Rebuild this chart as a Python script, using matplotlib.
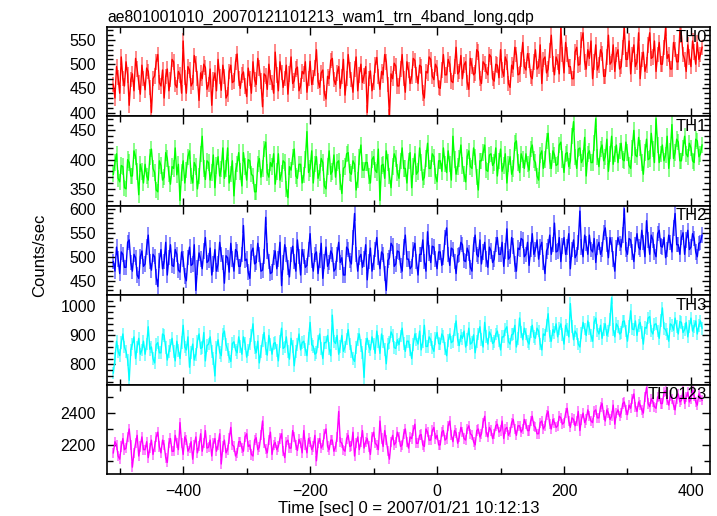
import numpy as np
import matplotlib
matplotlib.use("Agg")
import matplotlib.pyplot as plt
from matplotlib.ticker import MultipleLocator

plt.rcParams['font.family'] = ['Liberation Sans', 'DejaVu Sans']

title = "ae801001010_20070121101213_wam1_trn_4band_long.qdp"
xlabel = "Time [sec] 0 = 2007/01/21 10:12:13"
ylabel = "Counts/sec"
bands = ["TH0", "TH1", "TH2", "TH3", "TH0123"]
colors = ["#ff0000", "#00ff00", "#0000ff", "#00ffff", "#ff00ff"]

t_start, t_step = -510, 2.5

th0 = [458,430, 495,472, 440,515, 470,455, 505,478, 415,468, 480,445, 512,490, 462,438, 498,470,
       447,492, 485,452, 400,470, 476,505, 520,462, 455,488, 430,475, 490,445, 468,510, 505,458,
       452,485, 478,440, 548,472, 440,495, 488,455, 462,518, 500,470, 425,482, 470,500, 493,448,
       458,490, 415,468, 482,445, 510,475, 446,498, 475,430, 437,485, 498,462, 465,505, 521,470,
       450,478, 484,455, 433,492, 470,440, 505,468, 458,512, 492,465, 412,480, 476,448, 500,472,
       462,440, 525,478, 445,505, 483,452, 470,498, 438,480, 515,460, 466,490, 494,445, 455,485,
       480,505, 442,470, 506,458, 472,492, 530,465, 452,482, 488,440, 428,475, 470,508, 512,468,
       458,482, 495,450, 475,510, 436,470, 520,488, 468,442, 490,515, 445,478, 500,462, 476,495,
       400,470, 486,445, 462,498, 514,475, 448,485, 478,520, 505,458, 392,480, 470,502, 496,455,
       455,490, 520,470, 442,505, 488,460, 475,512, 508,478, 460,498, 495,440, 430,485, 482,515,
       510,475, 468,500, 492,452, 450,488, 520,478, 478,510, 500,465, 462,495, 535,480, 485,518,
       470,498, 505,462, 448,512, 496,478, 482,530, 525,470, 460,505, 500,485, 478,520, 515,470,
       465,500, 498,472, 530,488, 475,515, 505,460, 452,498, 490,535, 520,478, 480,510, 545,495,
       488,522, 508,475, 470,505, 530,490, 495,540, 460,510, 515,482, 490,528, 560,500, 478,515,
       505,480, 575,520, 482,545, 520,495, 495,470, 470,525, 535,498, 500,550, 565,505, 490,530,
       512,548, 470,505, 540,488, 498,530, 522,475, 475,515, 560,500, 505,540, 485,520, 530,490,
       495,535, 575,510, 510,548, 480,520, 540,495, 505,565, 470,510, 525,485, 498,540, 565,512,
       515,548, 485,520, 545,500, 500,535, 575,512, 520,490, 490,545, 530,505, 505,568, 560,520,
       510,485, 540,515, 495,548, 525,500, 545,510, 520,535]

th1 = [375,395, 410,368, 362,390, 388,352, 350,400, 395,372, 372,415, 405,380, 340,392, 380,360,
       392,372, 365,405, 418,385, 378,348, 345,398, 390,365, 370,412, 402,375, 358,388, 385,420,
       374,392, 330,378, 398,360, 382,405, 415,372, 360,395, 388,350, 372,410, 440,385, 366,398,
       395,365, 378,408, 352,390, 405,372, 384,420, 368,385, 420,360, 375,398, 338,380, 392,412,
       380,355, 412,388, 365,400, 398,375, 372,345, 345,392, 402,370, 385,418, 430,378, 370,395,
       388,410, 358,380, 410,365, 376,398, 395,350, 335,388, 382,405, 418,372, 368,392, 392,360,
       374,400, 448,378, 385,415, 360,392, 405,368, 378,402, 395,355, 350,388, 415,375, 380,408,
       370,395, 398,362, 342,385, 388,410, 412,378, 375,398, 392,348, 365,405, 425,382, 382,395,
       395,372, 360,400, 405,382, 378,418, 330,390, 392,368, 415,395, 372,352, 388,410, 402,378,
       368,398, 420,385, 385,360, 398,412, 352,388, 410,375, 380,420, 395,365, 370,402, 428,385,
       385,410, 405,372, 362,398, 398,380, 420,392, 378,415, 392,365, 440,400, 375,388, 402,425,
       390,375, 362,405, 415,388, 385,420, 405,370, 348,398, 398,412, 425,382, 380,408, 410,390,
       395,420, 372,398, 418,380, 390,410, 360,392, 405,375, 385,428, 432,395, 378,410, 400,385,
       410,392, 382,418, 425,400, 395,372, 365,408, 415,385, 400,432, 445,398, 385,415, 408,390,
       392,425, 430,400, 378,410, 412,388, 398,440, 465,405, 385,418, 420,395, 402,438, 372,410,
       415,395, 395,428, 470,405, 388,418, 425,398, 405,435, 380,410, 440,392, 410,425, 395,415,
       428,400, 398,430, 412,390, 385,420, 450,408, 405,438, 420,395, 375,412, 435,400, 402,445,
       418,395, 470,425, 395,410, 425,398, 408,440, 385,415, 460,402, 412,435, 430,398, 398,420,
       440,410, 405,428, 420,398, 395,435, 432,405, 410,425]

th2 = [490,470, 520,495, 465,510, 505,478, 478,530, 535,488, 470,505, 498,462, 455,500, 512,480,
       485,520, 545,490, 472,505, 500,458, 438,492, 515,475, 490,530, 462,498, 525,482, 480,515,
       505,472, 468,510, 495,460, 450,498, 520,482, 485,525, 430,478, 508,495, 475,512, 540,488,
       492,518, 462,485, 515,470, 485,530, 505,488, 445,502, 498,468, 528,495, 470,515, 510,480,
       480,505, 565,492, 495,468, 455,510, 518,485, 488,528, 505,470, 472,500, 582,512, 490,465,
       468,498, 512,475, 495,530, 440,488, 525,505, 478,458, 505,522, 490,470, 535,500, 462,515,
       500,478, 482,515, 548,492, 470,505, 510,465, 492,528, 455,490, 520,480, 488,512, 505,470,
       475,505, 530,488, 498,462, 462,520, 515,492, 485,540, 590,505, 470,498, 505,478, 495,525,
       452,490, 518,470, 488,515, 540,498, 475,510, 505,465, 430,492, 498,528, 522,480, 485,512,
       510,482, 470,520, 545,495, 495,475, 480,515, 528,490, 462,505, 505,535, 490,470, 552,508,
       488,522, 520,495, 475,510, 510,482, 498,540, 560,505, 482,518, 515,490, 465,502, 505,530,
       525,492, 490,518, 508,478, 470,525, 545,505, 500,535, 485,510, 530,495, 478,520, 512,488,
       495,525, 540,505, 505,530, 480,512, 558,495, 500,540, 522,485, 470,518, 515,538, 535,500,
       505,530, 482,515, 548,505, 515,535, 495,520, 530,488, 465,512, 520,545, 505,525, 570,510,
       512,540, 490,522, 540,505, 520,548, 475,515, 535,498, 505,530, 595,520, 500,545, 528,505,
       545,515, 510,538, 488,520, 530,505, 515,550, 560,525, 498,540, 525,495, 470,518, 540,528,
       520,545, 600,515, 505,538, 535,510, 490,525, 548,520, 515,555, 530,500, 575,535, 505,545,
       535,510, 500,548, 555,522, 520,540, 498,515, 545,530, 510,560, 590,525, 525,505, 540,550,
       505,535, 555,515, 520,548, 538,510, 500,528, 530,545]

th3 = [770,820, 880,845, 830,875, 905,860, 845,815, 745,850, 870,895, 820,860, 890,835, 850,880,
       835,870, 930,852, 860,820, 805,868, 875,840, 840,905, 900,858, 815,845, 865,890, 845,812,
       880,848, 820,875, 935,860, 850,895, 790,842, 870,815, 835,880, 905,855, 858,910, 812,865,
       870,895, 845,820, 760,858, 885,842, 830,905, 915,868, 852,825, 810,872, 878,850, 840,895,
       862,835, 895,872, 825,850, 870,900, 940,858, 840,880, 805,845, 882,910, 855,832, 900,868,
       835,872, 875,848, 812,880, 925,855, 860,895, 845,818, 890,862, 795,845, 868,905, 850,875,
       880,852, 830,890, 945,868, 862,835, 840,880, 905,855, 820,875, 875,900, 855,830, 970,880,
       872,900, 835,862, 900,845, 860,888, 920,870, 845,820, 810,858, 885,905, 865,840, 755,870,
       890,862, 850,895, 870,838, 915,880, 838,905, 880,852, 802,870, 875,912, 900,858, 855,885,
       868,898, 925,872, 845,880, 880,850, 820,868, 905,885, 870,915, 850,878, 935,862, 862,895,
       885,858, 845,890, 910,872, 870,905, 895,855, 830,882, 905,875, 880,920, 950,885, 865,900,
       890,915, 860,885, 925,870, 875,902, 840,878, 905,930, 885,860, 945,895, 870,912, 900,872,
       878,905, 915,882, 850,895, 895,920, 930,878, 870,902, 905,935, 860,890, 960,912, 885,925,
       905,880, 870,912, 935,895, 890,925, 915,870, 850,905, 900,935, 975,898, 880,920, 910,940,
       895,925, 940,902, 870,935, 920,895, 1010,930, 885,915, 905,870, 860,908, 945,922, 900,950,
       925,900, 880,945, 960,918, 905,935, 890,920, 940,900, 915,955, 1030,920, 895,940, 930,905,
       910,948, 950,915, 880,930, 985,922, 920,950, 900,935, 945,910, 870,928, 925,960, 965,915,
       905,938, 940,915, 890,952, 995,925, 920,905, 880,940, 935,918, 960,930, 905,948, 945,910,
       920,945, 895,930, 960,915, 930,950, 905,935, 950,925]

th0123 = [2150,2220, 2200,2130, 2110,2190, 2240,2170, 2180,2250, 2300,2200, 2060,2150, 2210,2260, 2130,2190, 2250,2170,
          2170,2220, 2120,2180, 2230,2140, 2190,2250, 2280,2190, 2150,2230, 2200,2120, 2090,2210, 2240,2160, 2160,2260,
          2210,2170, 2340,2210, 2140,2250, 2230,2160, 2180,2220, 2110,2200, 2250,2150, 2195,2270, 2160,2210, 2290,2180,
          2185,2230, 2130,2210, 2240,2160, 2200,2270, 2080,2190, 2230,2150, 2170,2240, 2310,2200, 2190,2130, 2150,2220,
          2220,2180, 2160,2250, 2270,2190, 2200,2140, 2130,2230, 2245,2170, 2185,2260, 2350,2210, 2175,2150, 2230,2280,
          2140,2200, 2215,2170, 2190,2240, 2270,2160, 2120,2220, 2230,2180, 2180,2290, 2250,2200, 2165,2235, 2210,2150,
          2290,2200, 2150,2240, 2220,2170, 2190,2260, 2100,2210, 2240,2180, 2200,2270, 2300,2190, 2170,2230, 2230,2160,
          2185,2250, 2410,2220, 2210,2170, 2160,2240, 2260,2190, 2195,2280, 2130,2210, 2250,2170, 2220,2290, 2180,2220,
          2240,2190, 2140,2250, 2280,2210, 2200,2170, 2350,2240, 2190,2290, 2230,2160, 2110,2220, 2260,2200, 2215,2280,
          2250,2190, 2200,2270, 2300,2220, 2180,2250, 2240,2290, 2330,2210, 2210,2260, 2265,2200, 2190,2300, 2280,2230,
          2230,2290, 2310,2240, 2260,2200, 2200,2280, 2290,2230, 2240,2320, 2350,2260, 2220,2290, 2275,2210, 2250,2310,
          2280,2240, 2230,2300, 2320,2270, 2260,2220, 2200,2290, 2300,2250, 2270,2340, 2380,2280, 2250,2310, 2290,2240,
          2270,2320, 2330,2280, 2290,2350, 2240,2300, 2310,2260, 2280,2340, 2360,2300, 2260,2320, 2320,2280, 2300,2360,
          2330,2290, 2290,2350, 2380,2320, 2310,2270, 2270,2340, 2350,2300, 2320,2390, 2410,2330, 2300,2360, 2340,2310,
          2320,2380, 2370,2330, 2340,2400, 2430,2350, 2310,2370, 2360,2320, 2350,2410, 2290,2360, 2400,2340, 2360,2420,
          2380,2350, 2340,2410, 2420,2370, 2370,2440, 2460,2390, 2350,2420, 2400,2360, 2380,2450, 2330,2400, 2420,2380,
          2400,2460, 2470,2420, 2390,2450, 2430,2490, 2520,2440, 2410,2470, 2450,2420, 2400,2500, 2560,2460, 2440,2490,
          2470,2440, 2430,2500, 2510,2460, 2460,2530, 2540,2480, 2450,2510, 2490,2450, 2420,2490, 2520,2470, 2480,2540,
          2460,2500, 2530,2470, 2490,2540, 2510,2470, 2450,2520, 2500,2480]

errors = [16, 14, 16, 22, 32]
series = [th0, th1, th2, th3, th0123]

ylims = [(392, 577), (321, 474), (420, 606), (730, 1039), (2017, 2579)]
ymajor = [50, 50, 50, 100, 200]
yminor = [10, 10, 10, 20, 100]

fig = plt.figure(figsize=(7.17, 5.16), dpi=100)
left, right, top, bottom = 107 / 717, 710 / 717, 1 - 27 / 516, 1 - 474 / 516
ph = (top - bottom) / 5
axes = []
for i in range(5):
    ax = fig.add_axes([left, top - (i + 1) * ph, right - left, ph])
    axes.append(ax)

for i, ax in enumerate(axes):
    y = np.array(series[i], dtype=float)
    x = t_start + t_step * np.arange(len(y))
    ax.errorbar(x, y, yerr=errors[i], fmt='none', ecolor=colors[i],
                alpha=0.5, elinewidth=1.3, capsize=0, zorder=1)
    ax.plot(x, y, color=colors[i], lw=1.0, zorder=2)
    ax.set_xlim(-520, 430)
    ax.set_ylim(*ylims[i])
    ax.yaxis.set_major_locator(MultipleLocator(ymajor[i]))
    ax.yaxis.set_minor_locator(MultipleLocator(yminor[i]))
    ax.xaxis.set_major_locator(MultipleLocator(200))
    ax.xaxis.set_minor_locator(MultipleLocator(100))
    ax.tick_params(which='both', direction='in', top=True, right=True,
                   labelsize=11.5, width=1.0)
    ax.tick_params(axis='y', which='major', pad=8)
    ax.tick_params(axis='x', which='major', pad=7)
    ax.tick_params(which='major', length=6)
    ax.tick_params(which='minor', length=4)
    if i < 4:
        ax.tick_params(labelbottom=False)
    for s in ax.spines.values():
        s.set_linewidth(1.2)
    ax.text(0.995, 0.97, bands[i], transform=ax.transAxes, ha='right',
            va='top', fontsize=12, color='black', zorder=5)

axes[0].set_title(title, loc='left', fontsize=11.3, pad=4)
axes[4].set_xlabel(xlabel, fontsize=12, labelpad=2)
fig.text(40 / 717, 1 - 255 / 516, ylabel, rotation=90, ha='center', va='center',
         fontsize=12)

fig.savefig("out.png", dpi=100)
